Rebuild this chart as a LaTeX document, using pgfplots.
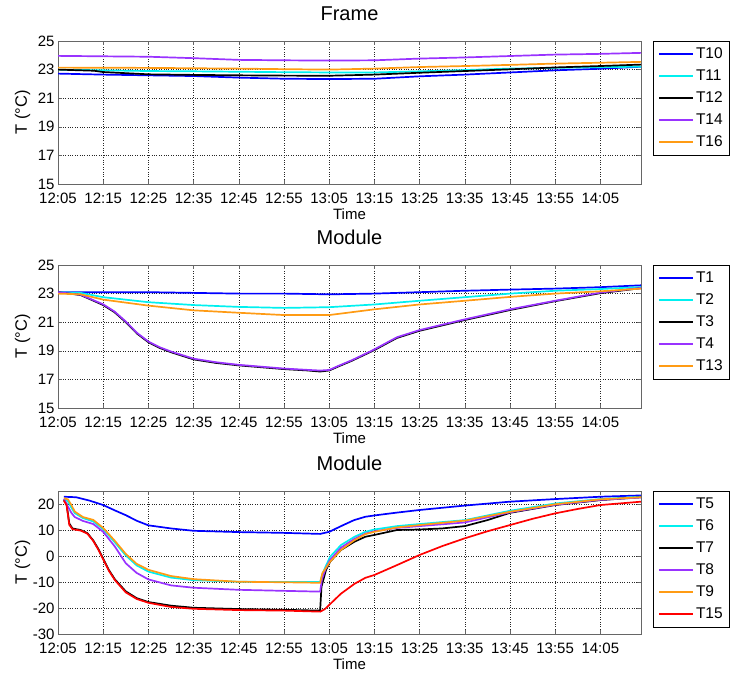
\documentclass[border=0pt]{standalone}
\usepackage{pgfplots}
\pgfplotsset{compat=1.18}
\usepackage{fontspec}
\setmainfont{Liberation Sans}
\definecolor{mblue}{RGB}{0,0,255}
\definecolor{mcyan}{RGB}{0,240,240}
\definecolor{mpurple}{RGB}{153,51,255}
\definecolor{morange}{RGB}{255,155,20}
\definecolor{mred}{RGB}{255,0,0}
\pgfplotsset{
  mstyle/.style={
    scale only axis, width=583pt, height=143pt,
    font=\fontsize{15}{18}\selectfont,
    /pgf/number format/assume math mode=true,
    xmin=0, xmax=129,
    xtick={0,10,...,120},
    xticklabels={12:05,12:15,12:25,12:35,12:45,12:55,13:05,13:15,13:25,13:35,13:45,13:55,14:05},
    grid=major,
    major grid style={black!85, dotted, line width=0.5pt},
    tick align=inside, major tick length=4pt,
    tick style={black!60, line width=0.5pt},
    axis line style={black!60, line width=0.6pt},
    xlabel={Time}, ylabel={T (°C)},
    xlabel style={at={(axis description cs:0.5,-0.2448)}, anchor=base},
    ylabel style={at={(axis description cs:-0.0532,0.5)}, anchor=base, font=\fontsize{16.5}{19}\selectfont},
    xticklabel style={anchor=base, yshift=-19.5pt},
    title style={at={(axis description cs:0.5,1.098)}, anchor=base, font=\fontsize{20}{24}\selectfont},
    legend cell align=left,
    legend style={at={(axis description cs:1.0206,1)}, anchor=north west,
      draw=black, line width=0.6pt, inner xsep=5pt, inner ysep=2pt,
      font=\fontsize{15.5}{18}\selectfont,
      nodes={text height=11pt, text depth=3pt, inner xsep=2pt, inner ysep=4pt}},
    legend image code/.code={\draw[#1, line width=1.7pt] (0pt,0pt) -- (34pt,0pt);},
    every axis plot/.append style={line width=1.7pt},
  }
}
\begin{document}
\begin{tikzpicture}
\useasboundingbox (0,0) rectangle (730pt,-675pt);
% ---------------- Frame ----------------
\begin{axis}[mstyle, at={(58pt,-41pt)}, anchor=north west,
  title={Frame}, ymin=15, ymax=25, ytick={15,17,...,25}]
\addplot[mblue] coordinates {(0,22.72)(10,22.65)(20,22.6)(30,22.55)(40,22.44)(50,22.36)(60,22.34)(70,22.36)(80,22.53)(90,22.65)(100,22.8)(110,22.95)(120,23.06)(129,23.2)};
\addlegendentry{T10}
\addplot[mcyan] coordinates {(0,23.0)(10,22.95)(20,22.9)(30,22.88)(40,22.85)(50,22.82)(60,22.8)(70,22.8)(80,22.88)(90,22.97)(100,23.07)(110,23.12)(120,23.17)(129,23.2)};
\addlegendentry{T11}
\addplot[black] coordinates {(0,23.0)(8,22.92)(10,22.83)(15,22.75)(20,22.67)(30,22.63)(40,22.6)(50,22.58)(60,22.57)(70,22.65)(80,22.78)(90,22.9)(100,23.02)(110,23.15)(120,23.25)(129,23.35)};
\addlegendentry{T12}
\addplot[mpurple] coordinates {(0,23.96)(20,23.9)(30,23.8)(40,23.68)(50,23.65)(60,23.63)(70,23.65)(80,23.77)(90,23.85)(100,23.95)(110,24.05)(120,24.1)(129,24.17)};
\addlegendentry{T14}
\addplot[morange] coordinates {(0,23.14)(20,23.12)(40,23.07)(50,23.03)(60,23.0)(70,23.07)(80,23.18)(90,23.25)(100,23.33)(110,23.42)(120,23.48)(129,23.54)};
\addlegendentry{T16}
\end{axis}
% ---------------- Module (middle) ----------------
\begin{axis}[mstyle, at={(58pt,-265pt)}, anchor=north west,
  title={Module}, ymin=15, ymax=25, ytick={15,17,...,25}]
\addplot[mblue] coordinates {(0,23.1)(20,23.1)(40,23.0)(50,23.0)(60,22.95)(70,23.0)(80,23.1)(90,23.2)(100,23.28)(110,23.35)(120,23.45)(129,23.58)};
\addlegendentry{T1}
\addplot[mcyan] coordinates {(0,23.1)(5,23.05)(10,22.75)(20,22.4)(30,22.2)(40,22.07)(50,22.0)(60,22.05)(70,22.24)(80,22.5)(90,22.75)(100,23.0)(110,23.2)(120,23.32)(129,23.46)};
\addlegendentry{T2}
\addplot[black] coordinates {(0,23.1)(5,22.9)(10,22.2)(12.5,21.7)(15,21.0)(17.5,20.2)(20,19.6)(22.5,19.2)(25,18.9)(30,18.4)(35,18.15)(40,17.98)(50,17.72)(55,17.63)(58,17.55)(60,17.62)(62,17.9)(65,18.3)(69,18.9)(70,19.05)(75,19.9)(80,20.4)(90,21.15)(100,21.85)(110,22.47)(120,23.03)(129,23.38)};
\addlegendentry{T3}
\addplot[mpurple] coordinates {(0,23.1)(5,22.92)(10,22.25)(12.5,21.75)(15,21.05)(17.5,20.25)(20,19.65)(22.5,19.25)(25,18.95)(30,18.45)(35,18.2)(40,18.02)(50,17.76)(55,17.67)(58,17.62)(60,17.66)(62,17.94)(65,18.34)(69,18.94)(70,19.1)(75,19.95)(80,20.45)(90,21.2)(100,21.9)(110,22.5)(120,23.07)(129,23.4)};
\addlegendentry{T4}
\addplot[morange] coordinates {(0,23.0)(5,22.95)(10,22.58)(20,22.16)(30,21.83)(40,21.66)(50,21.5)(60,21.5)(70,21.9)(80,22.24)(90,22.5)(100,22.77)(110,23.0)(120,23.16)(129,23.35)};
\addlegendentry{T13}
\end{axis}
% ---------------- Module (bottom) ----------------
\begin{axis}[mstyle, at={(58pt,-491pt)}, anchor=north west,
  title={Module}, ymin=-30, ymax=25, ytick={-30,-20,...,20}]
\addplot[mblue] coordinates {(1.3,22.8)(4,22.6)(7,21.3)(10,19.6)(12.5,17.6)(15,15.7)(17.5,13.5)(20,11.8)(25,10.6)(30,9.7)(40,9.2)(50,8.9)(58,8.5)(60,9.3)(63,11.8)(65.5,13.8)(68,15.1)(70,15.6)(75,16.7)(80,17.7)(90,19.4)(100,20.9)(110,21.9)(120,22.8)(129,23.3)};
\addlegendentry{T5}
\addplot[mcyan] coordinates {(1.3,22.0)(2.2,21.0)(3.0,18.5)(3.7,16.5)(5.5,14.6)(7.8,13.3)(10,10.3)(12.6,5.2)(15,0.2)(17.4,-3.6)(20,-6.0)(25,-8.3)(30,-9.3)(40,-9.9)(50,-10.0)(58,-10.0)(58.5,-7)(59.2,-4.1)(60.2,-0.3)(62.6,4.2)(65.6,7.4)(68,9.3)(70,10.2)(75,11.5)(80,12.3)(90,13.8)(100,17.4)(110,20.2)(120,21.9)(129,22.8)};
\addlegendentry{T6}
\addplot[black] coordinates {(1.3,21.5)(1.9,20)(2.5,12.5)(3.2,10.6)(5,10.0)(6.5,8.8)(7.8,6)(9,2.5)(10,-1.0)(11.3,-5.5)(12.6,-9)(15,-13.6)(17.4,-16.2)(20,-17.7)(25,-19.1)(30,-19.9)(40,-20.4)(50,-20.7)(58,-21.0)(58.3,-11.8)(59.3,-5.4)(60.2,-2.2)(62.6,2.3)(65.6,5.5)(68,7.4)(70,8.1)(75,10)(80,10.2)(85,10.6)(90,11.5)(95,13.8)(100,16.6)(110,19.6)(120,21.5)(129,22.6)};
\addlegendentry{T7}
\addplot[mpurple] coordinates {(1.3,22.0)(2.2,19)(3.0,16.5)(3.7,15)(5.5,13.5)(7.8,12.3)(10,9.3)(12.6,3.6)(15,-2.8)(17.4,-6.5)(20,-9.0)(25,-11.3)(30,-12.2)(40,-13.0)(50,-13.4)(58,-13.7)(58.4,-9)(59.2,-5)(60.2,-1.5)(62.6,3.2)(65.6,6.6)(68,8.6)(70,9.5)(75,10.8)(80,11.5)(90,12.9)(100,16.8)(110,19.7)(120,21.6)(129,22.5)};
\addlegendentry{T8}
\addplot[morange] coordinates {(1.3,22.2)(2.2,21.8)(3.0,19.5)(3.7,17.1)(5.5,15)(7.8,13.9)(10,10.8)(12.6,5.8)(15,0.8)(17.4,-3.0)(20,-5.3)(25,-7.7)(30,-8.9)(40,-9.9)(50,-10.1)(58,-10.3)(58.5,-6.6)(60.2,-2.2)(62.6,2.3)(65.6,6.1)(68,8.4)(70,9.3)(75,11.0)(80,11.9)(90,13.6)(100,17.0)(110,19.9)(120,21.8)(129,22.6)};
\addlegendentry{T9}
\addplot[mred] coordinates {(1.3,21.3)(1.9,19.5)(2.5,12)(3.2,10.3)(5,9.8)(6.5,8.6)(7.8,5.8)(9,2.2)(10,-1.3)(11.3,-5.8)(12.6,-9.3)(15,-14)(17.4,-16.5)(20,-18.0)(25,-19.6)(30,-20.3)(40,-20.8)(50,-21.0)(58,-21.4)(59,-20.5)(60.2,-18.5)(62.6,-14.5)(65.6,-10.7)(68,-8.4)(70,-7.3)(75,-3.5)(80,0.4)(85,3.8)(90,6.8)(95,9.5)(100,11.9)(105,14.3)(110,16.4)(115,18.1)(120,19.6)(129,20.9)};
\addlegendentry{T15}
\end{axis}
\end{tikzpicture}
\end{document}
